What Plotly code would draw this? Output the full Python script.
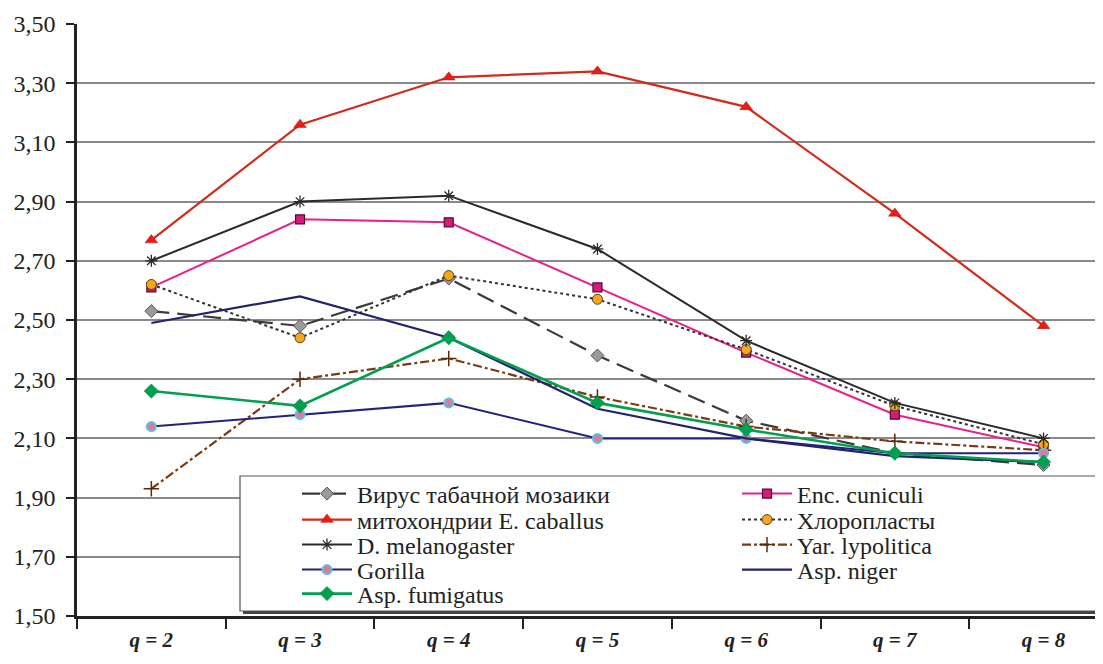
import plotly.graph_objects as go

categories = ["q = 2", "q = 3", "q = 4", "q = 5", "q = 6", "q = 7", "q = 8"]

virus = [2.53, 2.48, 2.64, 2.38, 2.16, 2.05, 2.01]
enc = [2.61, 2.84, 2.83, 2.61, 2.39, 2.18, 2.07]
mito = [2.77, 3.16, 3.32, 3.34, 3.22, 2.86, 2.48]
chloro = [2.62, 2.44, 2.65, 2.57, 2.40, 2.21, 2.08]
dmel = [2.70, 2.90, 2.92, 2.74, 2.43, 2.22, 2.10]
yar = [1.93, 2.30, 2.37, 2.24, 2.14, 2.09, 2.06]
gorilla = [2.14, 2.18, 2.22, 2.10, 2.10, 2.05, 2.05]
niger = [2.49, 2.58, 2.44, 2.20, 2.10, 2.04, 2.02]
fumig = [2.26, 2.21, 2.44, 2.22, 2.13, 2.05, 2.02]

yticks = [1.5, 1.7, 1.9, 2.1, 2.3, 2.5, 2.7, 2.9, 3.1, 3.3, 3.5]

SERIF = "Liberation Serif, Times New Roman, serif"

# page has an 8px body margin; work in screen pixels and convert
OFF = 8
W, H = 1103, 664
L, T, B, R = 77 - OFF, 24 - OFF, H - (616 - OFF), 0
pw, ph = W - L - R, H - T - B

def px(sx):
    return (sx - OFF - L) / pw

def py(sy):
    return (H - B - (sy - OFF)) / ph

fig = go.Figure()

fig.add_trace(go.Scatter(x=categories, y=virus, name="Вирус табачной мозаики", mode="lines+markers", legend="legend",
                         line=dict(color="#3a3a3a", width=2.2, dash="18px,8px"),
                         marker=dict(symbol="diamond", size=10, color="#9a9a9a", line=dict(color="#555555", width=1))))
fig.add_trace(go.Scatter(x=categories, y=enc, name="Enc. cuniculi", mode="lines+markers", legend="legend2",
                         line=dict(color="#e8208c", width=2),
                         marker=dict(symbol="square", size=9, color="#d81b7a", line=dict(color="#4a1030", width=1.2))))
fig.add_trace(go.Scatter(x=categories, y=mito, name="митохондрии E. caballus", mode="lines+markers", legend="legend3",
                         line=dict(color="#d42a1a", width=2.2),
                         marker=dict(symbol="triangle-up", size=11, color="#e81e14", line=dict(color="#b01010", width=0.5))))
fig.add_trace(go.Scatter(x=categories, y=chloro, name="Хлоропласты", mode="lines+markers", legend="legend4",
                         line=dict(color="#333333", width=2, dash="dot"),
                         marker=dict(symbol="circle", size=10, color="#f5a81c", line=dict(color="#5a4010", width=1))))
fig.add_trace(go.Scatter(x=categories, y=dmel, name="D. melanogaster", mode="lines+markers", legend="legend5",
                         line=dict(color="#2a2a2a", width=2),
                         marker=dict(symbol="asterisk-open", size=10, color="#2a2a2a", line=dict(color="#2a2a2a", width=1.3))))
fig.add_trace(go.Scatter(x=categories, y=yar, name="Yar. lypolitica", mode="lines+markers", legend="legend6",
                         line=dict(color="#7a3a12", width=2.2, dash="dashdot"),
                         marker=dict(symbol="cross-thin-open", size=11, color="#5a2a0a", line=dict(color="#5a2a0a", width=1.5))))
fig.add_trace(go.Scatter(x=categories, y=gorilla, name="Gorilla", mode="lines+markers", legend="legend7",
                         line=dict(color="#23237a", width=2),
                         marker=dict(symbol="circle", size=9, color="#e07a90", line=dict(color="#58c0ee", width=2))))
fig.add_trace(go.Scatter(x=categories, y=niger, name="Asp. niger", mode="lines", legend="legend8",
                         line=dict(color="#22226e", width=2.2)))
fig.add_trace(go.Scatter(x=categories, y=fumig, name="Asp. fumigatus", mode="lines+markers", legend="legend9",
                         line=dict(color="#00a050", width=2.6),
                         marker=dict(symbol="diamond", size=11, color="#00a050", line=dict(color="#007a3a", width=0.5))))

shapes = [
    dict(type="rect", xref="paper", yref="paper", x0=px(243), x1=1.05, y0=py(614), y1=py(479),
         fillcolor="#444444", line=dict(width=0), layer="above"),
    dict(type="rect", xref="paper", yref="paper", x0=px(240), x1=1.05, y0=py(611), y1=py(476),
         fillcolor="white", line=dict(color="#555555", width=1.2), layer="above"),
]

legfont = dict(size=24, family=SERIF, color="#222222")
col_x = [px(297), px(737)]
rows = [494, 494, 520, 520, 545, 545, 570, 570, 594]
legends = {}
for i, ry in enumerate(rows):
    key = "legend" if i == 0 else f"legend{i + 1}"
    legends[key] = dict(x=col_x[i % 2], y=py(ry), xanchor="left", yanchor="middle",
                        bgcolor="rgba(0,0,0,0)", borderwidth=0, font=legfont, itemwidth=50)

fig.update_layout(
    width=W, height=H,
    margin=dict(l=L, r=R, t=T, b=B),
    paper_bgcolor="white", plot_bgcolor="white",
    separators=", ",
    font=dict(family=SERIF, color="#222222", size=24),
    shapes=shapes,
    showlegend=True,
    **legends,
    xaxis=dict(type="category", categoryorder="array", categoryarray=categories,
               range=[-0.5, -0.5 + pw / 148.7], showgrid=False, tickson="boundaries",
               ticks="outside", ticklen=10, tickwidth=1.5, tickcolor="#222222",
               showline=True, linecolor="#222222", linewidth=3,
               tickfont=dict(family=SERIF, size=21, style="italic", weight="bold", color="#222222"),
               ticklabelstandoff=3, zeroline=False),
    yaxis=dict(range=[1.5, 3.5], tickvals=yticks, tickformat=".2f",
               showgrid=True, gridcolor="#8a8a8a", gridwidth=1.5,
               ticks="outside", ticklen=8, tickwidth=1.5, tickcolor="#222222",
               showline=True, linecolor="#222222", linewidth=2.5,
               tickfont=dict(family=SERIF, size=24, color="#222222"),
               ticklabelstandoff=6, zeroline=False),
)

fig.write_html("out.html")
